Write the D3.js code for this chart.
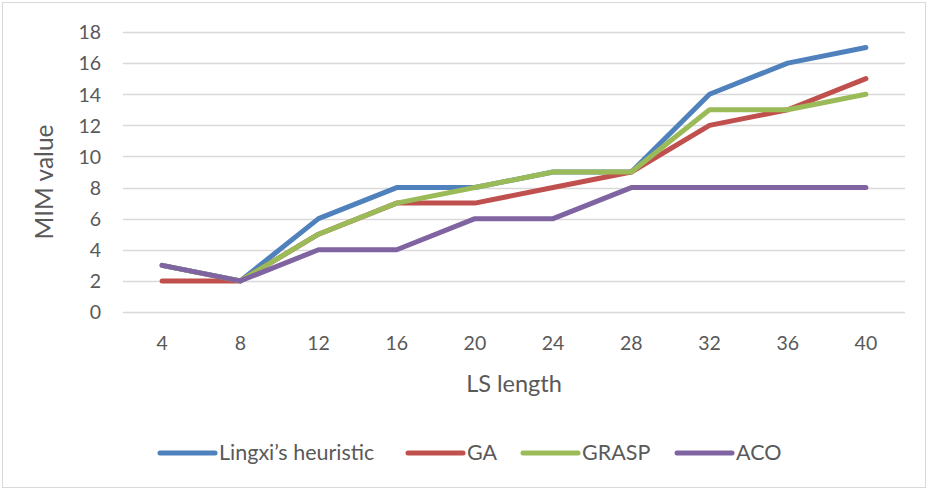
<!DOCTYPE html>
<html>
<head>
<meta charset="utf-8">
<script src="https://cdn.jsdelivr.net/npm/d3@7"></script>
<style>
  body { margin: 0; background: #fff; }
  svg { display: block; font-family: Lato, "Open Sans", sans-serif; }
</style>
</head>
<body>
<svg id="chart" width="935" height="491"></svg>
<script>
// data
var categories = [4, 8, 12, 16, 20, 24, 28, 32, 36, 40];
var seriesNames = ["Lingxi\u2019s heuristic", "GA", "GRASP", "ACO"];
var lingxiValues = [3, 2, 6, 8, 8, 9, 9, 14, 16, 17];
var gaValues = [2, 2, 5, 7, 7, 8, 9, 12, 13, 15];
var graspValues = [3, 2, 5, 7, 8, 9, 9, 13, 13, 14];
var acoValues = [3, 2, 4, 4, 6, 6, 8, 8, 8, 8];
var yTicks = [0, 2, 4, 6, 8, 10, 12, 14, 16, 18];

var colors = ["#4F81BD", "#C0504D", "#9BBB59", "#8064A2"];
var series = [lingxiValues, gaValues, graspValues, acoValues].map(function(v, i){
	return {"name": seriesNames[i], "values": v, "color": colors[i]};
});

var svg = d3.select("#chart");
var textColor = "#595959";
var fontFamily = "Lato, 'Open Sans', sans-serif";

// outer border
svg.append("rect")
   .attr("x", 2.5).attr("y", 2.5)
   .attr("width", 923).attr("height", 485)
   .attr("fill", "#fff")
   .attr("stroke", "#D9D9D9");

var plotLeft = 123, plotRight = 905, plotTop = 32, plotBottom = 312;

var x = d3.scaleBand()
		  .domain(categories)
		  .range([plotLeft, plotRight]);
var y = d3.scaleLinear()
		  .domain([0, 18])
		  .range([plotBottom, plotTop]);

// gridlines
svg.append("g")
   .selectAll("line")
   .data(yTicks)
   .enter()
   .append("line")
	   .attr("x1", plotLeft).attr("x2", plotRight)
	   .attr("y1", function(d){ return Math.round(y(d)) + 0.5; })
	   .attr("y2", function(d){ return Math.round(y(d)) + 0.5; })
	   .attr("stroke", "#D9D9D9")
	   .attr("stroke-width", 1.3);

// y axis labels
var yAxis = svg.append("g")
			   .attr("transform", "translate(" + (plotLeft - 22) + ",0)")
			   .call(d3.axisLeft(y).tickValues(yTicks).tickSize(0).tickPadding(0));
yAxis.select(".domain").remove();
yAxis.attr("font-family", fontFamily);
yAxis.selectAll("text")
	 .attr("fill", textColor)
	 .attr("font-size", "19.5px")
	 .attr("dy", "0.35em");

// x axis labels
var xAxis = svg.append("g")
			   .attr("transform", "translate(0,350)")
			   .call(d3.axisBottom(x).tickSize(0).tickPadding(0));
xAxis.select(".domain").remove();
xAxis.attr("font-family", fontFamily);
xAxis.selectAll("text")
	 .attr("fill", textColor)
	 .attr("font-size", "19.5px")
	 .attr("y", 0)
	 .attr("dy", 0);

// axis titles
svg.append("text")
   .attr("x", (plotLeft + plotRight) / 2)
   .attr("y", 392)
   .attr("text-anchor", "middle")
   .attr("fill", textColor)
   .attr("font-size", "23.5px")
   .text("LS length");

svg.append("text")
   .attr("transform", "translate(53,182) rotate(-90)")
   .attr("text-anchor", "middle")
   .attr("fill", textColor)
   .attr("font-size", "24.5px")
   .text("MIM value");

// lines
var line = d3.line()
			 .x(function(d, i){ return x(categories[i]) + x.bandwidth() / 2; })
			 .y(function(d){ return y(d); });

svg.append("g")
   .selectAll("path")
   .data(series)
   .enter()
   .append("path")
	   .attr("d", function(d){ return line(d.values); })
	   .attr("fill", "none")
	   .attr("stroke", function(d){ return d.color; })
	   .attr("stroke-width", 5)
	   .attr("stroke-linecap", "round")
	   .attr("stroke-linejoin", "round");

// legend
var legendX = [160, 408, 523, 677];
var legend = svg.append("g")
				.selectAll("g")
				.data(series)
				.enter()
				.append("g")
					.attr("transform", function(d, i){ return "translate(" + legendX[i] + ",453)"; });
legend.append("line")
	  .attr("x1", 0).attr("x2", 55)
	  .attr("stroke", function(d){ return d.color; })
	  .attr("stroke-width", 5)
	  .attr("stroke-linecap", "round");
legend.append("text")
	  .attr("x", 59)
	  .attr("y", 7)
	  .attr("fill", textColor)
	  .attr("font-size", "21.5px")
	  .text(function(d){ return d.name; });
</script>
</body>
</html>
